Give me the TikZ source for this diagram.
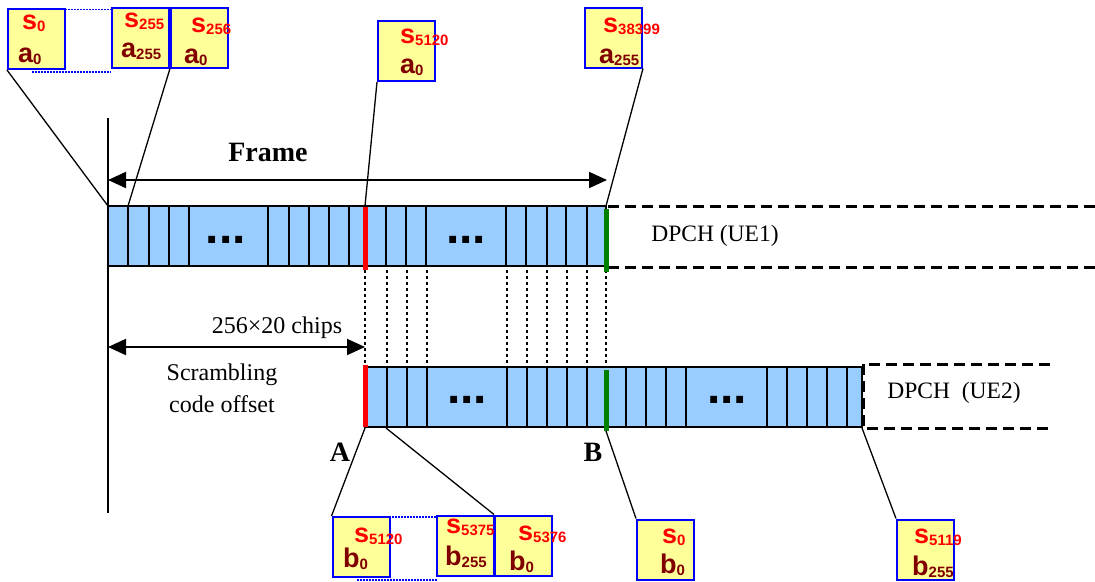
\documentclass[tikz,border=0pt]{standalone}
\usepackage{fontspec}
\setmainfont{Liberation Serif}
\newfontfamily\arialfont{Liberation Sans}
\usetikzlibrary{arrows.meta}
\definecolor{chipblue}{HTML}{99CCFF}
\definecolor{notepad}{HTML}{FFFF99}
\definecolor{darkred}{HTML}{800000}
\definecolor{codegreen}{HTML}{008000}
\newcommand{\chipsym}[2]{{\fontsize{27}{27}\selectfont #1}\raisebox{-2pt}{\fontsize{15}{15}\selectfont #2}}

\begin{document}
\begin{tikzpicture}[x=1pt,y=-1pt,font=\fontsize{23.5}{28}\selectfont,
  cbox/.style={draw=blue,fill=notepad,line width=2pt,minimum width=57pt,minimum height=60pt,inner sep=0pt},
  slbl/.style={anchor=base west,inner sep=0pt,text=red,font=\arialfont\bfseries},
  albl/.style={anchor=base west,inner sep=0pt,text=darkred,font=\arialfont\bfseries},
  dots/.style={anchor=base,inner sep=0pt,font=\arialfont\bfseries\fontsize{48}{48}\selectfont},
  bluedot/.style={blue,line width=1.5pt,dash pattern=on 1.5pt off 1.5pt},
  gapline/.style={line width=2.2pt,dash pattern=on 3pt off 3pt},
  ueline/.style={line width=3pt,dash pattern=on 11pt off 6pt},
  big/.style={{Triangle[length=18pt,width=16pt]}-{Triangle[length=18pt,width=16pt]},line width=2pt}]
\useasboundingbox (0,0) rectangle (1095,581);

% frame and offset arrows
\draw [line width=1.5pt] (108,118) -- (108,513);
\coordinate (fl) at (108,180);
\coordinate (fr) at (607,180);
\draw [big] (fl) -- (fr);
\node [font=\bfseries\fontsize{28}{30}\selectfont] (frame) at (268,152) {Frame};
\coordinate (ol) at (108,347);
\coordinate (or) at (365,347);
\draw [big] (ol) -- (or);
\node [font=\fontsize{24}{28}\selectfont] (chips) at (277,328) {256×20 chips};
\node [font=\fontsize{24}{32}\selectfont,align=center] (offset) at (222,388) {Scrambling\\code offset};

% UE1
\draw [fill=chipblue,line width=1.5pt] (108,206) rectangle (606,266);
\foreach \x in {128,149,169,189,268,289,309,329,349,386,406,426,506,526,547,566,587}
  \draw [line width=1.3pt] (\x,206) -- (\x,266);
\node [dots] (d1) at (226,243) {...};
\node [dots] (d2) at (466,243) {...};
\draw [ueline] (608,206) -- (1095,206);
\draw [ueline] (608,267) -- (1095,267);
\node (ue1) at (715,236) {DPCH (UE1)};

% UE2
\draw [fill=chipblue,line width=1.5pt] (365,367) rectangle (862,427);
\foreach \x in {387,407,427,507,527,547,567,587,626,646,666,686,767,787,807,827,847}
  \draw [line width=1.3pt] (\x,367) -- (\x,427);
\node [dots] (d3) at (467,403) {...};
\node [dots] (d4) at (727,403) {...};
\draw [ueline] (1050,364) -- (863,364) -- (863,428) -- (1050,428);
\node (ue2) at (954,393) {DPCH\ \ (UE2)};

\foreach \x in {365,387,407,427,507,527,547,567,587,606}
  \draw [gapline] (\x,270) -- (\x,366);
\draw [red,line width=5pt] (365,207) -- (365,270);
\draw [codegreen,line width=5pt] (606,209) -- (606,272);
\draw [red,line width=5pt] (365,365) -- (365,427);
\draw [codegreen,line width=5pt] (606,370) -- (606,431);
\node [font=\bfseries\fontsize{28}{30}\selectfont] (pa) at (340,452) {A};
\node [font=\bfseries\fontsize{28}{30}\selectfont] (pb) at (593,452) {B};

% chip boxes
\node [cbox] (k0) at (36.5,39) {};
\node [slbl] at (22,29) {\chipsym{s}{0}};
\node [albl] at (18,62) {\chipsym{a}{0}};
\node [cbox] (k255) at (140.5,37.5) {};
\node [slbl] at (124,27) {\chipsym{s}{255}};
\node [albl] at (121,57) {\chipsym{a}{255}};
\node [cbox] (k256) at (199.5,37.5) {};
\node [slbl] at (191,32) {\chipsym{s}{256}};
\node [albl] at (184,63) {\chipsym{a}{0}};
\draw [bluedot] (65,9.5) -- (112,9.5);
\draw [bluedot] (32,72) -- (111,72);
\node [cbox] (k5120a) at (406.5,51) {};
\node [slbl] at (400,43) {\chipsym{s}{5120}};
\node [albl] at (400,73) {\chipsym{a}{0}};
\node [cbox] (k38399) at (613.5,37.5) {};
\node [slbl] at (603,32) {\chipsym{s}{38399}};
\node [albl] at (599,63) {\chipsym{a}{255}};

\node [cbox] (k5120b) at (361,547) {};
\node [slbl] at (354,542) {\chipsym{s}{5120}};
\node [albl] at (343,567) {\chipsym{b}{0}};
\node [cbox] (k5375) at (465,545.5) {};
\node [slbl] at (446,533) {\chipsym{s}{5375}};
\node [albl] at (445,565) {\chipsym{b}{255}};
\node [cbox] (k5376) at (523.5,545.5) {};
\node [slbl] at (518,540) {\chipsym{s}{5376}};
\node [albl] at (509,570) {\chipsym{b}{0}};
\draw [bluedot] (389,517) -- (437,517);
\draw [bluedot] (357,580) -- (438,580);
\node [cbox] (kb0) at (665.5,549.5) {};
\node [slbl] at (662,543) {\chipsym{s}{0}};
\node [albl] at (660,573) {\chipsym{b}{0}};
\node [cbox] (k5119) at (925.5,549.5) {};
\node [slbl] at (914,543) {\chipsym{s}{5119}};
\node [albl] at (912,575) {\chipsym{b}{255}};

% pointers
\coordinate (t0) at (108,206);
\coordinate (t1) at (128,206);
\coordinate (tr) at (365,206);
\coordinate (tg) at (606,206);
\coordinate (br) at (365,428);
\coordinate (b1) at (386,428);
\coordinate (bg) at (606,431);
\coordinate (be) at (862,428);
\draw [line width=1.3pt] (k0.south west) -- (t0);
\draw [line width=1.3pt] (k256.south west) -- (t1);
\draw [line width=1.3pt] (k5120a.south west) -- (tr);
\draw [line width=1.3pt] (k38399.south east) -- (tg);
\draw [line width=1.3pt] (br) -- (k5120b.north west);
\draw [line width=1.3pt] (b1) -- (k5376.north west);
\draw [line width=1.3pt] (bg) -- (kb0.north west);
\draw [line width=1.3pt] (be) -- (k5119.north west);
\end{tikzpicture}
\end{document}
